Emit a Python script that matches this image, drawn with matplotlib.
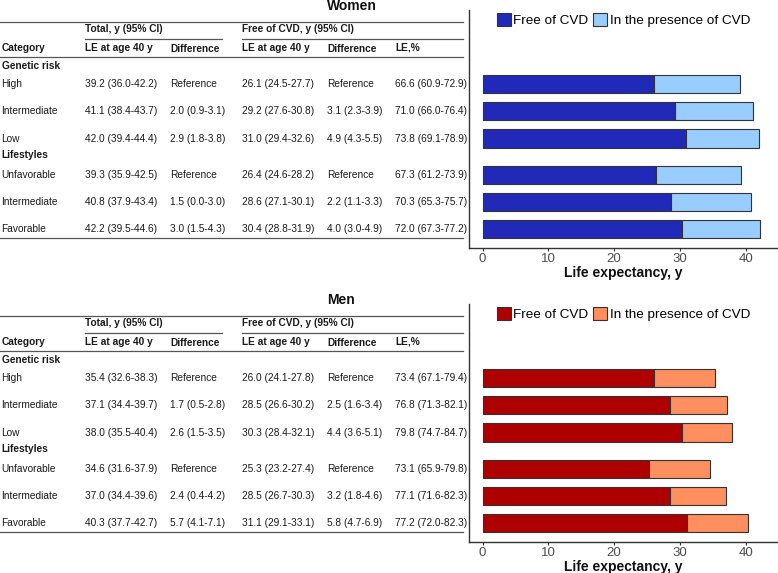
import matplotlib
matplotlib.use("Agg")
import matplotlib.pyplot as plt
from matplotlib.patches import Patch

plt.rcParams['font.family'] = ['Liberation Sans', 'DejaVu Sans']

# ---------------- data ----------------
groups = ["Genetic risk", "Lifestyles"]
categories = ["High", "Intermediate", "Low", "Unfavorable", "Intermediate", "Favorable"]
group_of_row = [0, 0, 0, 1, 1, 1]

women_total = ["39.2 (36.0-42.2)", "41.1 (38.4-43.7)", "42.0 (39.4-44.4)",
               "39.3 (35.9-42.5)", "40.8 (37.9-43.4)", "42.2 (39.5-44.6)"]
women_total_diff = ["Reference", "2.0 (0.9-3.1)", "2.9 (1.8-3.8)",
                    "Reference", "1.5 (0.0-3.0)", "3.0 (1.5-4.3)"]
women_free = ["26.1 (24.5-27.7)", "29.2 (27.6-30.8)", "31.0 (29.4-32.6)",
              "26.4 (24.6-28.2)", "28.6 (27.1-30.1)", "30.4 (28.8-31.9)"]
women_free_diff = ["Reference", "3.1 (2.3-3.9)", "4.9 (4.3-5.5)",
                   "Reference", "2.2 (1.1-3.3)", "4.0 (3.0-4.9)"]
women_pct = ["66.6 (60.9-72.9)", "71.0 (66.0-76.4)", "73.8 (69.1-78.9)",
             "67.3 (61.2-73.9)", "70.3 (65.3-75.7)", "72.0 (67.3-77.2)"]

men_total = ["35.4 (32.6-38.3)", "37.1 (34.4-39.7)", "38.0 (35.5-40.4)",
             "34.6 (31.6-37.9)", "37.0 (34.4-39.6)", "40.3 (37.7-42.7)"]
men_total_diff = ["Reference", "1.7 (0.5-2.8)", "2.6 (1.5-3.5)",
                  "Reference", "2.4 (0.4-4.2)", "5.7 (4.1-7.1)"]
men_free = ["26.0 (24.1-27.8)", "28.5 (26.6-30.2)", "30.3 (28.4-32.1)",
            "25.3 (23.2-27.4)", "28.5 (26.7-30.3)", "31.1 (29.1-33.1)"]
men_free_diff = ["Reference", "2.5 (1.6-3.4)", "4.4 (3.6-5.1)",
                 "Reference", "3.2 (1.8-4.6)", "5.8 (4.7-6.9)"]
men_pct = ["73.4 (67.1-79.4)", "76.8 (71.3-82.1)", "79.8 (74.7-84.7)",
           "73.1 (65.9-79.8)", "77.1 (71.6-82.3)", "77.2 (72.0-82.3)"]

women_colors = ["#2129B8", "#99CCFF"]
men_colors = ["#AE0000", "#FF8F5E"]
legend_labels = ["Free of CVD", "In the presence of CVD"]


def est(s):
    return float(s.split()[0])


# ---------------- layout ----------------
W, H = 778, 573
fig = plt.figure(figsize=(W / 100, H / 100), dpi=100)


def rect(x0, y0, x1, y1):
    return [x0 / W, 1 - y1 / H, (x1 - x0) / W, (y1 - y0) / H]


UNIT = 27.1
ROW0 = 84.3
ypos = [0, 1, 2, 3.33, 4.33, 5.33]
group_ypos = [-0.675, 2.61]

col_x = [1.5, 85, 170, 242, 327, 395]
FS = 7.25
TXT = "#1a1a1a"
LINE = "#555555"


def panel(off, title, total, total_diff, free, free_diff, pct, colors):
    top, bot = 10 + off, 247.7 + off
    ylim = ((bot - off - ROW0) / UNIT, (top - off - ROW0) / UNIT)

    # ---- table ----
    axt = fig.add_axes(rect(0, top, 468.5, bot))
    axt.set_xlim(0, 468.5)
    axt.set_ylim(*ylim)
    axt.axis('off')

    def py(p):
        return (p - ROW0) / UNIT

    for y, x0, x1 in [(py(22), 0, 463), (py(39), 85, 222), (py(39), 242, 463),
                      (py(57), 0, 463), (py(237.5), 0, 463)]:
        axt.plot([x0, x1], [y, y], color=LINE, lw=0.9, clip_on=False)

    hy1, hy2 = py(29.5), py(48)
    axt.text(col_x[1], hy1, "Total, y (95% CI)", fontsize=FS, weight='bold', va='center', color=TXT)
    axt.text(col_x[3], hy1, "Free of CVD, y (95% CI)", fontsize=FS, weight='bold', va='center', color=TXT)
    for x, s in zip(col_x, ["Category", "LE at age 40 y", "Difference",
                            "LE at age 40 y", "Difference", "LE,%"]):
        axt.text(x, hy2 if s != "Difference" else hy2 + 0.04, s, fontsize=FS,
                 weight='bold', va='center', color=TXT)
    for g, gy in zip(groups, group_ypos):
        axt.text(col_x[0], gy, g, fontsize=FS, weight='bold', va='center', color=TXT)
    for i, y in enumerate(ypos):
        row = [categories[i], total[i], total_diff[i], free[i], free_diff[i], pct[i]]
        for x, s in zip(col_x, row):
            axt.text(x, y, s, fontsize=FS, va='center', color=TXT)

    fig.text(327 / W, 1 - (5.5 + off) / H, title, ha='left', va='center',
             fontsize=10, weight='bold', color='#111111')

    # ---- bars ----
    axb = fig.add_axes(rect(468.5, top, 778, bot))
    tot = [est(s) for s in total]
    fr = [est(s) for s in free]
    pres = [t - f for t, f in zip(tot, fr)]
    axb.barh(ypos, fr, height=0.665, color=colors[0], edgecolor='#333333', lw=0.8)
    axb.barh(ypos, pres, left=fr, height=0.665, color=colors[1], edgecolor='#333333', lw=0.8)
    axb.set_ylim(*ylim)
    axb.set_xlim(-2.13, 44.92)
    axb.set_yticks([])
    axb.set_xticks([0, 10, 20, 30, 40])
    axb.tick_params(axis='x', labelsize=9.5, labelcolor='#4D4D4D', color='#333333',
                    length=2.5, width=0.8, pad=1.5)
    for s in ['top', 'right']:
        axb.spines[s].set_visible(False)
    for s in ['left', 'bottom']:
        axb.spines[s].set_color('#333333')
        axb.spines[s].set_linewidth(1.0)
    axb.set_xlabel("Life expectancy, y", fontsize=10, weight='bold', labelpad=0.4,
                   color='#111111')
    handles = [Patch(facecolor=c, edgecolor='#333333', lw=0.8, label=l)
               for c, l in zip(colors, legend_labels)]
    axb.legend(handles=handles, ncol=2, loc='center',
               bbox_to_anchor=(0.5, 1 - 10 / 237.7), frameon=False,
               fontsize=9.7, handlelength=1.04, handleheight=1.04,
               handletextpad=0.22, columnspacing=0.3, borderaxespad=0,
               borderpad=0)


panel(0, "Women", women_total, women_total_diff, women_free, women_free_diff,
      women_pct, women_colors)
panel(294, "Men", men_total, men_total_diff, men_free, men_free_diff,
      men_pct, men_colors)

fig.savefig("out.png", dpi=100, facecolor='white')
